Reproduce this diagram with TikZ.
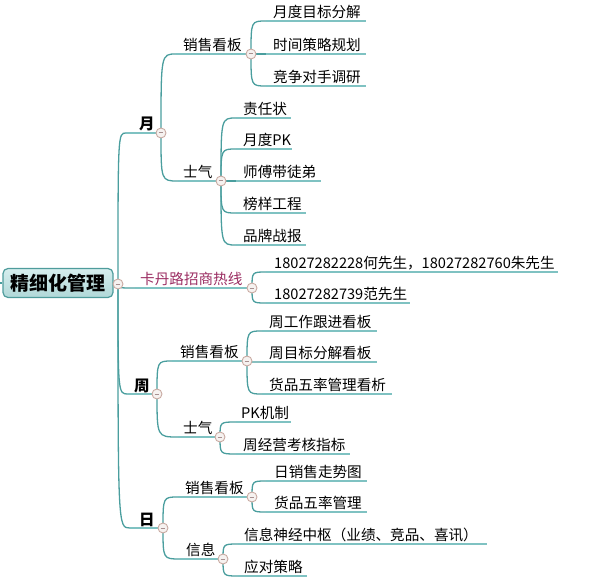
\documentclass[tikz,border=0pt]{standalone}
\usepackage{fontspec}
\setmainfont{Noto Sans CJK SC}
\usetikzlibrary{backgrounds}
\definecolor{curvec}{HTML}{4A9E9E}
\definecolor{ulc}{HTML}{7FC2C2}
\definecolor{collb}{HTML}{C9AAA2}
\definecolor{collf}{HTML}{F6F2F0}
\definecolor{colls}{HTML}{A89090}
\definecolor{rootb}{HTML}{4F9C9C}
\definecolor{hot}{HTML}{9B2D62}
\definecolor{roott}{HTML}{D6EEEE}
\definecolor{rootbt}{HTML}{B0D8D8}
\tikzset{
  curve/.style={draw=curvec,line width=1.3pt},
  uline/.style={draw=ulc,line width=2pt},
  coll/.style={circle,draw=collb,fill=collf,line width=0.9pt,minimum size=10pt,inner sep=0pt,
    path picture={\draw[colls,line width=1pt]([xshift=2.6pt]path picture bounding box.west)--([xshift=-2.6pt]path picture bounding box.east);}},
  txt/.style={anchor=base west,inner sep=0pt,font=\fontsize{14.6}{16}\selectfont},
  lone/.style={anchor=base west,inner sep=0pt,font=\fontsize{15.5}{17}\selectfont\bfseries},
  rootbox/.style={draw=rootb,line width=1.2pt,rounded corners=5pt,top color=roott,bottom color=rootbt,
    minimum width=110pt,minimum height=29pt,inner sep=0pt,font=\fontsize{19}{21}\selectfont\bfseries},
}
\newcommand\mmlink[3]{\draw[curve] (#1.center) .. controls (#1.center |- #2) .. (#2); \draw[uline] (#2) -- (#3);}
\begin{document}
\begin{tikzpicture}[x=1pt,y=-1pt]
\useasboundingbox (0,0) rectangle (611,583);
% root
\coordinate (stub) at (0,283);
\node[rootbox] (root) at (58,283) {精细化管理};
\draw[curve] (stub) -- (root.west);
\node[coll] (cr) at (118,284) {};

% ---------- 月
\coordinate (yueL) at (126,133); \coordinate (yueR) at (161,133);
\node[lone] (yue) at (139,130) {月};
\coordinate (yxL) at (176,54); \coordinate (yxR) at (251,54);
\node[txt] (yx) at (183,50.5) {销售看板};
\coordinate (a1L) at (266,21); \coordinate (a1R) at (366,21);
\node[txt] (a1) at (273,17.5) {月度目标分解};
\coordinate (a2L) at (266,54); \coordinate (a2R) at (366,54);
\node[txt] (a2) at (273,50.5) {时间策略规划};
\coordinate (a3L) at (266,86); \coordinate (a3R) at (366,86);
\node[txt] (a3) at (273,82.5) {竞争对手调研};
\coordinate (ysL) at (178,181); \coordinate (ysR) at (221,181);
\node[txt] (ys) at (183,177.5) {士气};
\coordinate (b1L) at (236,118); \coordinate (b1R) at (291,118);
\node[txt] (b1) at (243,114.5) {责任状};
\coordinate (b2L) at (236,149); \coordinate (b2R) at (292,149);
\node[txt] (b2) at (243,145.5) {月度PK};
\coordinate (b3L) at (236,181); \coordinate (b3R) at (321,181);
\node[txt] (b3) at (243,177.5) {师傅带徒弟};
\coordinate (b4L) at (236,213); \coordinate (b4R) at (306,213);
\node[txt] (b4) at (243,209.5) {榜样工程};
\coordinate (b5L) at (236,245); \coordinate (b5R) at (306,245);
\node[txt] (b5) at (243,241.5) {品牌战报};

% ---------- 卡丹路
\coordinate (kL) at (135,288); \coordinate (kR) at (252,288);
\node[txt,text=hot] (k) at (140,284.5) {卡丹路招商热线};
\coordinate (t1L) at (266,272); \coordinate (t1R) at (558,272);
\node[txt] (t1) at (274,268.5) {18027282228何先生，18027282760朱先生};
\coordinate (t2L) at (266,303); \coordinate (t2R) at (410,303);
\node[txt] (t2) at (274,299.5) {18027282739范先生};

% ---------- 周
\coordinate (zL) at (128,394); \coordinate (zR) at (157,394);
\node[lone] (z) at (134,391) {周};
\coordinate (zxL) at (172,361); \coordinate (zxR) at (247,361);
\node[txt] (zx) at (180,357.5) {销售看板};
\coordinate (c1L) at (262,331); \coordinate (c1R) at (377,331);
\node[txt] (c1) at (269,327.5) {周工作跟进看板};
\coordinate (c2L) at (262,362); \coordinate (c2R) at (377,362);
\node[txt] (c2) at (269,358.5) {周目标分解看板};
\coordinate (c3L) at (262,394); \coordinate (c3R) at (392,394);
\node[txt] (c3) at (269,390.5) {货品五率管理看析};
\coordinate (zsL) at (178,437); \coordinate (zsR) at (220,437);
\node[txt] (zs) at (183,433.5) {士气};
\coordinate (d1L) at (236,422); \coordinate (d1R) at (291,422);
\node[txt] (d1) at (241,418.5) {PK机制};
\coordinate (d2L) at (236,454); \coordinate (d2R) at (350,454);
\node[txt] (d2) at (243,450.5) {周经营考核指标};

% ---------- 日
\coordinate (rL) at (130,528); \coordinate (rR) at (163,528);
\node[lone] (r) at (139,525) {日};
\coordinate (rxL) at (178,497); \coordinate (rxR) at (252,497);
\node[txt] (rx) at (185,493.5) {销售看板};
\coordinate (e1L) at (266,481); \coordinate (e1R) at (367,481);
\node[txt] (e1) at (274,477.5) {日销售走势图};
\coordinate (e2L) at (266,512); \coordinate (e2R) at (367,512);
\node[txt] (e2) at (274,508.5) {货品五率管理};
\coordinate (riL) at (180,559); \coordinate (riR) at (223,559);
\node[txt] (ri) at (186,555.5) {信息};
\coordinate (f1L) at (238,544); \coordinate (f1R) at (487,544);
\node[txt] (f1) at (244,540.5) {信息神经中枢（业绩、竞品、喜讯）};
\coordinate (f2L) at (238,576); \coordinate (f2R) at (307,576);
\node[txt] (f2) at (244,572.5) {应对策略};

% collapse circles
\node[coll] (cyue) at (yueR) {};
\node[coll] (cyx) at (yxR) {};
\node[coll] (cys) at (ysR) {};
\node[coll] (ck) at (kR) {};
\node[coll] (cz) at (zR) {};
\node[coll] (czx) at (zxR) {};
\node[coll] (czs) at (zsR) {};
\node[coll] (cr2) at (rR) {};
\node[coll] (crx) at (rxR) {};
\node[coll] (cri) at (riR) {};

\begin{scope}[on background layer]
\mmlink{cr}{yueL}{yueR}
\mmlink{cr}{kL}{kR}
\mmlink{cr}{zL}{zR}
\mmlink{cr}{rL}{rR}
\mmlink{cyue}{yxL}{yxR}
\mmlink{cyue}{ysL}{ysR}
\mmlink{cyx}{a1L}{a1R}
\mmlink{cyx}{a2L}{a2R}
\mmlink{cyx}{a3L}{a3R}
\mmlink{cys}{b1L}{b1R}
\mmlink{cys}{b2L}{b2R}
\mmlink{cys}{b3L}{b3R}
\mmlink{cys}{b4L}{b4R}
\mmlink{cys}{b5L}{b5R}
\mmlink{ck}{t1L}{t1R}
\mmlink{ck}{t2L}{t2R}
\mmlink{cz}{zxL}{zxR}
\mmlink{cz}{zsL}{zsR}
\mmlink{czx}{c1L}{c1R}
\mmlink{czx}{c2L}{c2R}
\mmlink{czx}{c3L}{c3R}
\mmlink{czs}{d1L}{d1R}
\mmlink{czs}{d2L}{d2R}
\mmlink{cr2}{rxL}{rxR}
\mmlink{cr2}{riL}{riR}
\mmlink{crx}{e1L}{e1R}
\mmlink{crx}{e2L}{e2R}
\mmlink{cri}{f1L}{f1R}
\mmlink{cri}{f2L}{f2R}
\end{scope}
\end{tikzpicture}
\end{document}
